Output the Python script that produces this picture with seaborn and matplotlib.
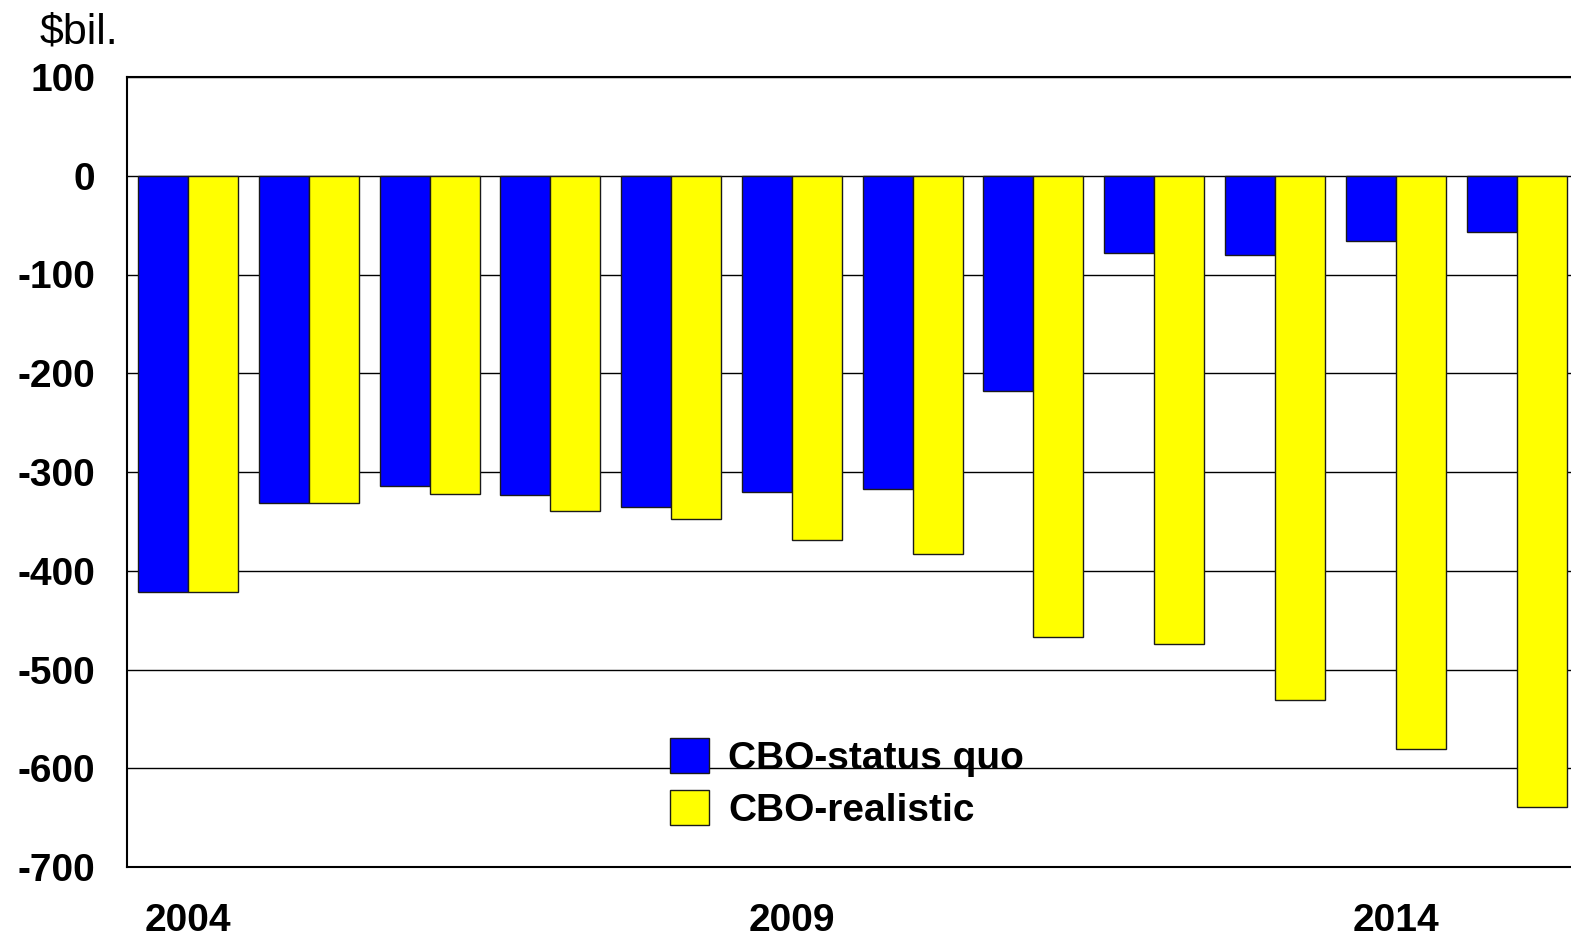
import matplotlib
matplotlib.use("Agg")
import matplotlib.pyplot as plt
import seaborn as sns
import pandas as pd
from matplotlib.patches import Patch

years = [str(y) for y in range(2004, 2016)]
status_quo = [-422, -331, -314, -323, -335, -320, -317, -218, -78, -80, -66, -57]
realistic = [-422, -331, -322, -339, -348, -369, -383, -467, -474, -531, -581, -639]
series_names = ["CBO-status quo", "CBO-realistic"]
tick_years = ["2004", "2009", "2014"]

df = pd.DataFrame({
    "year": years * 2,
    "value": status_quo + realistic,
    "series": [series_names[0]] * len(years) + [series_names[1]] * len(years),
})

sns.set_style("white")
plt.rcParams["font.family"] = ["Liberation Sans", "DejaVu Sans"]
plt.rcParams["text.color"] = "black"
plt.rcParams["xtick.color"] = "black"
plt.rcParams["ytick.color"] = "black"

W, H = 1571, 936
fig = plt.figure(figsize=(W / 100, H / 100), dpi=100)
ax = fig.add_axes([127 / W, 1 - 867 / H, (1577 - 127) / W, (867 - 77) / H])

sns.barplot(data=df, x="year", y="value", hue="series", order=years,
            hue_order=series_names, palette=["#0000FF", "#FFFF00"],
            saturation=1, width=0.828, dodge=True, ax=ax, legend=False,
            zorder=3)

for p in ax.patches:
    p.set_edgecolor("#1a1a1a")
    p.set_linewidth(1.0)

ax.set_xlim(-0.505, 11.5)
ax.set_ylim(-700, 100)
ax.set_yticks(range(-700, 101, 100))
ax.set_yticklabels([str(v) for v in range(-700, 101, 100)],
                   fontsize=28, fontweight="bold")
ax.set_xticks(range(len(years)))
ax.set_xticklabels([y if y in tick_years else "" for y in years],
                   fontsize=28, fontweight="bold")
ax.tick_params(axis="both", length=0)
ax.tick_params(axis="y", pad=23)
ax.tick_params(axis="x", pad=26)
ax.set_xlabel("")
ax.set_ylabel("")
ax.yaxis.grid(True, color="black", linewidth=1.0, zorder=0)
ax.set_axisbelow(True)
for s in ["left", "top", "bottom"]:
    ax.spines[s].set_color("black")
    ax.spines[s].set_linewidth(1.5)
ax.spines["right"].set_visible(False)

handles = [Patch(facecolor="#0000FF", edgecolor="#1a1a1a"),
           Patch(facecolor="#FFFF00", edgecolor="#1a1a1a")]
fig.legend(handles, series_names, loc="upper left",
           bbox_to_anchor=(664 / W, 1 - 732 / H), frameon=False,
           prop={"size": 28, "weight": "bold"}, handlelength=1.0,
           handleheight=1.0, handletextpad=0.5, labelspacing=0.35,
           borderaxespad=0, borderpad=0.15)

fig.text(40 / W, 1 - 32 / H, r"\$bil.", fontsize=31, ha="left", va="center")

fig.savefig("out.png", dpi=100)
